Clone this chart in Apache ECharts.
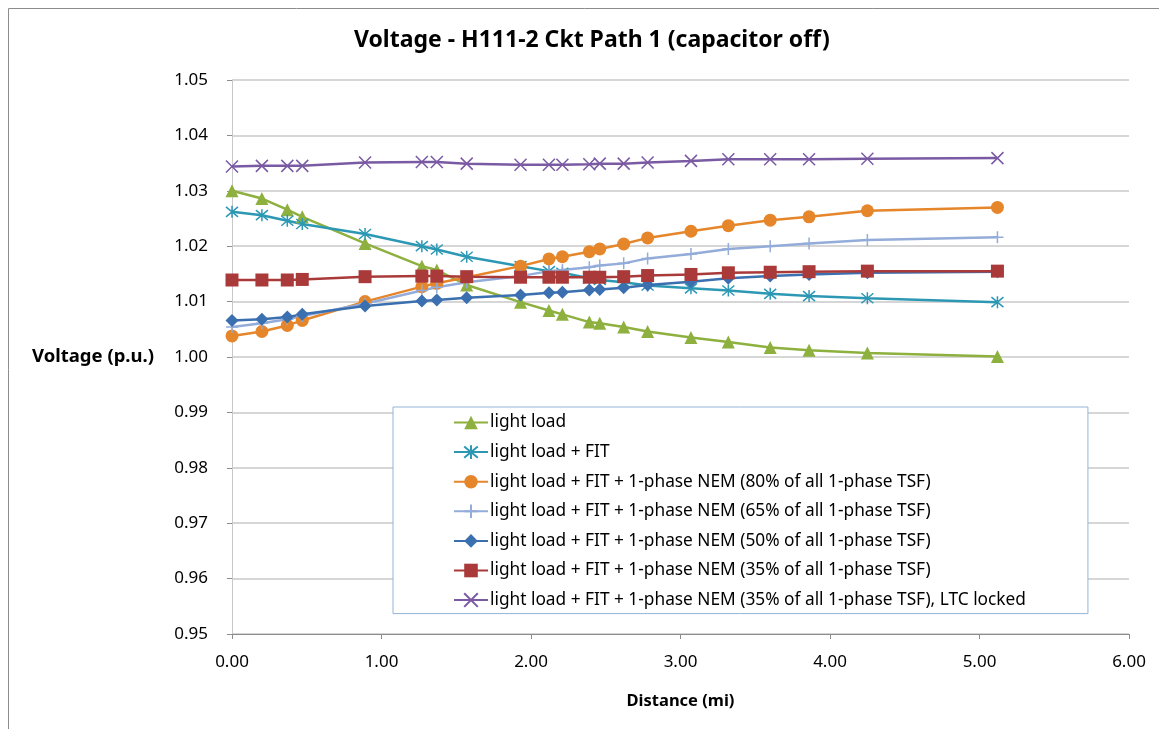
<!DOCTYPE html>
<html>
<head>
<meta charset="utf-8">
<script src="https://cdn.jsdelivr.net/npm/echarts@6/dist/echarts.min.js"></script>
<style>
html, body { margin: 0; padding: 0; background: #fff; }
#chart { width: 1159px; height: 729px; }
</style>
</head>
<body>
<div id="chart"></div>
<script>
const chart = echarts.init(document.getElementById("chart"));

const FONT = "Noto Sans";

// distance along the feeder (mi)
const distance = [0.00, 0.20, 0.37, 0.47, 0.89, 1.27, 1.37, 1.57, 1.93, 2.12, 2.21,
	2.39, 2.46, 2.62, 2.78, 3.07, 3.32, 3.60, 3.86, 4.25, 5.12];

const lightLoad = [1.0300, 1.0286, 1.0266, 1.0253, 1.0205, 1.0164, 1.0157, 1.0130, 1.0099, 1.0084, 1.0077,
	1.0063, 1.0061, 1.0054, 1.0046, 1.0035, 1.0027, 1.0017, 1.0012, 1.0007, 1.0001];
const lightLoadFit = [1.0262, 1.0256, 1.0246, 1.0240, 1.0222, 1.0200, 1.0194, 1.0181, 1.0164, 1.0155, 1.0152,
	1.0142, 1.0139, 1.0135, 1.0129, 1.0124, 1.0120, 1.0114, 1.0110, 1.0106, 1.0099];
const nem80 = [1.0038, 1.0046, 1.0057, 1.0066, 1.0100, 1.0127, 1.0133, 1.0144, 1.0164, 1.0177, 1.0181,
	1.0190, 1.0195, 1.0204, 1.0215, 1.0227, 1.0237, 1.0247, 1.0253, 1.0264, 1.0270];
const nem65 = [1.0054, 1.0061, 1.0068, 1.0074, 1.0096, 1.0120, 1.0126, 1.0135, 1.0146, 1.0155, 1.0157,
	1.0162, 1.0165, 1.0169, 1.0178, 1.0186, 1.0195, 1.0200, 1.0205, 1.0211, 1.0216];
const nem50 = [1.0066, 1.0068, 1.0072, 1.0077, 1.0092, 1.0101, 1.0103, 1.0107, 1.0112, 1.0116, 1.0117,
	1.0121, 1.0122, 1.0125, 1.0130, 1.0136, 1.0142, 1.0146, 1.0149, 1.0152, 1.0154];
const nem35 = [1.0139, 1.0139, 1.0139, 1.0140, 1.0145, 1.0146, 1.0146, 1.0145, 1.0144, 1.0144, 1.0144,
	1.0144, 1.0144, 1.0145, 1.0147, 1.0149, 1.0152, 1.0153, 1.0154, 1.0155, 1.0155];
const nem35Ltc = [1.0344, 1.0345, 1.0345, 1.0345, 1.0351, 1.0352, 1.0352, 1.0349, 1.0347, 1.0347, 1.0347,
	1.0348, 1.0349, 1.0349, 1.0351, 1.0354, 1.0357, 1.0357, 1.0357, 1.0358, 1.0359];

const seriesNames = [
	"light load",
	"light load + FIT",
	"light load + FIT + 1-phase NEM (80% of all 1-phase TSF)",
	"light load + FIT + 1-phase NEM (65% of all 1-phase TSF)",
	"light load + FIT + 1-phase NEM (50% of all 1-phase TSF)",
	"light load + FIT + 1-phase NEM (35% of all 1-phase TSF)",
	"light load + FIT + 1-phase NEM (35% of all 1-phase TSF), LTC locked"
];

const STAR = "path://M0,0L10,10M10,0L0,10M5,-1L5,11";
const CROSS = "path://M0,0L10,10M10,0L0,10";
const PLUS = "path://M5,0L5,12M0,6L10,6";

function pairs(values) {
	return distance.map((d, i) => [d, values[i]]);
}

function makeSeries(name, values, color, symbol, size, stroked) {
	return {
		name: name,
		type: "line",
		data: pairs(values),
		symbol: symbol,
		symbolSize: size,
		showAllSymbol: true,
		lineStyle: { color: color, width: 2.5 },
		itemStyle: stroked
			? { color: color, borderColor: color, borderWidth: 1.5 }
			: { color: color, borderWidth: 0 },
		emphasis: { disabled: true },
		z: 2
	};
}

option = {
	animation: false,
	textStyle: { fontFamily: FONT },
	title: {
		text: "Voltage - H111-2 Ckt Path 1 (capacitor off)",
		left: 349,
		top: 24,
		textStyle: { fontFamily: FONT, fontSize: 23, fontWeight: "bold", color: "#000" }
	},
	graphic: [{
		type: "polyline",
		shape: { points: [[8.5, 740], [8.5, 8.5], [1170, 8.5]] },
		style: { stroke: "#8c8c8c", lineWidth: 1, fill: null },
		silent: true
	}],
	legend: {
		orient: "vertical",
		left: 393,
		top: 407,
		padding: [7, 62, 5, 60],
		itemGap: 12.6,
		itemWidth: 34,
		itemHeight: 17,
		borderColor: "#95b3d7",
		borderWidth: 1,
		backgroundColor: "#fff",
		textStyle: { fontFamily: FONT, fontSize: 17.3, color: "#000", padding: [0, 0, 0, -3] },
		data: seriesNames
	},
	grid: {
		left: 232,
		right: 30,
		top: 80,
		bottom: 95
	},
	xAxis: {
		type: "value",
		min: 0,
		max: 6,
		interval: 1,
		name: "Distance (mi)",
		nameLocation: "middle",
		nameGap: 59,
		nameTextStyle: { fontFamily: FONT, fontSize: 16.5, fontWeight: "bold", color: "#000" },
		axisLine: { lineStyle: { color: "#8c8c8c", width: 1 } },
		axisTick: { show: true, length: 5, lineStyle: { color: "#8c8c8c" } },
		axisLabel: {
			formatter: v => v.toFixed(2),
			fontFamily: FONT,
			fontSize: 17,
			color: "#000",
			margin: 20
		},
		splitLine: { show: false }
	},
	yAxis: {
		type: "value",
		min: 0.95,
		max: 1.05,
		interval: 0.01,
		name: "Voltage (p.u.)",
		nameLocation: "middle",
		nameRotate: 0,
		nameGap: 200,
		nameTextStyle: { fontFamily: FONT, fontSize: 18.5, fontWeight: "bold", color: "#000", align: "left" },
		axisLine: { show: true, lineStyle: { color: "#c8c8c8", width: 1 } },
		axisTick: { show: true, length: 5, lineStyle: { color: "#8c8c8c" } },
		axisLabel: {
			formatter: v => v.toFixed(2),
			fontFamily: FONT,
			fontSize: 17,
			color: "#000",
			margin: 24
		},
		splitLine: { show: true, lineStyle: { color: "#c8c8c8", width: 1.5 } }
	},
	series: [
		makeSeries(seriesNames[0], lightLoad, "#8db03f", "triangle", 13, false),
		makeSeries(seriesNames[1], lightLoadFit, "#2c98b4", STAR, 12, true),
		makeSeries(seriesNames[2], nem80, "#e6862b", "circle", 13, false),
		makeSeries(seriesNames[3], nem65, "#93acd9", PLUS, 12, true),
		makeSeries(seriesNames[4], nem50, "#3a6fb0", "diamond", 13, false),
		makeSeries(seriesNames[5], nem35, "#aa3a3a", "rect", 13, false),
		makeSeries(seriesNames[6], nem35Ltc, "#7a5aa3", CROSS, 12, true)
	]
};

chart.setOption(option);
window.onresize = chart.resize;
</script>
</body>
</html>
